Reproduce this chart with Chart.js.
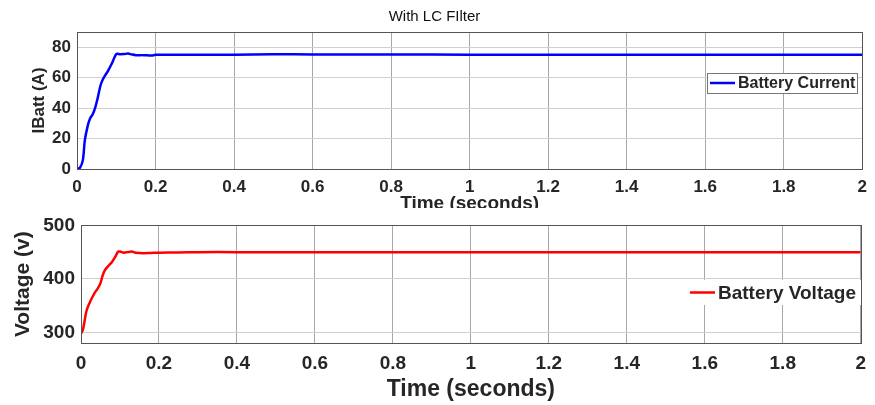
<!DOCTYPE html>
<html>
<head>
<meta charset="utf-8">
<script src="https://cdn.jsdelivr.net/npm/chart.js@4.4.0/dist/chart.umd.min.js"></script>
<style>
  html, body { margin: 0; padding: 0; background: #fff; }
  #top { position: absolute; left: 0; top: 0; width: 875px; height: 208px; overflow: hidden; }
  #bot { position: absolute; left: 0; top: 208px; width: 875px; height: 197px; }
</style>
</head>
<body>
<div id="top"><canvas id="currentChart" width="875" height="222"></canvas></div>
<div id="bot"><canvas id="voltageChart" width="875" height="197"></canvas></div>
<script>
// battery current (A) vs time (s)
var currentTime = [0, 0.008, 0.015, 0.02, 0.027, 0.033, 0.04, 0.046, 0.053, 0.06, 0.066, 0.073, 0.079, 0.09, 0.1, 0.11, 0.12, 0.13, 0.14, 0.15, 0.17, 0.19, 0.2, 0.25, 0.3, 0.4, 0.5, 0.6, 0.8, 1.0, 1.2, 1.4, 1.6, 1.8, 2.0];
var currentVals = [0, 1, 6, 19, 28, 33, 36, 40, 47, 55, 59, 62, 64.5, 70, 75.5, 75.4, 75.5, 75.8, 75.2, 74.8, 74.8, 74.5, 75, 75.1, 75.1, 75.1, 75.4, 75.2, 75.2, 75.1, 75.1, 75, 75.1, 75.1, 75.1];
// battery voltage (V) vs time (s)
var voltageTime = [0, 0.005, 0.014, 0.022, 0.03, 0.037, 0.043, 0.05, 0.055, 0.061, 0.07, 0.079, 0.087, 0.095, 0.1, 0.11, 0.12, 0.13, 0.14, 0.16, 0.18, 0.2, 0.25, 0.3, 0.4, 0.6, 0.8, 1.0, 1.2, 1.4, 1.6, 1.8, 2.0];
var voltageVals = [298, 305, 340, 355, 367, 376, 382, 392, 405, 416, 424, 431, 440, 451, 451, 449, 450, 451, 449, 448, 448.5, 449, 449.5, 450, 450, 450, 450, 450, 450, 450, 450, 450, 450];

var xTicks = [0, 0.2, 0.4, 0.6, 0.8, 1, 1.2, 1.4, 1.6, 1.8, 2];
var currentTicks = [0, 20, 40, 60, 80];
var voltageTicks = [300, 400, 500];

function toPoints(xs, ys) {
  return xs.map(function (x, i) { return { x: x, y: ys[i] }; });
}

var FONT = "'Liberation Sans', Arial, sans-serif";
var TXT = "#262626";

// legend drawn inside plot area, MATLAB style
var boxLegend = {
  id: "boxLegend",
  afterDraw: function (chart, args, opts) {
    var ctx = chart.ctx;
    var ds = chart.data.datasets[0];
    ctx.save();
    ctx.fillStyle = "#fff";
    ctx.fillRect(opts.x, opts.y, opts.w, opts.h);
    if (opts.border) {
      ctx.strokeStyle = "#777";
      ctx.lineWidth = 1;
      ctx.strokeRect(opts.x + 0.5, opts.y + 0.5, opts.w, opts.h);
    }
    var cy = opts.y + opts.h / 2;
    ctx.strokeStyle = ds.borderColor;
    ctx.lineWidth = 2.5;
    ctx.beginPath();
    ctx.moveTo(opts.x + opts.lineStart, cy);
    ctx.lineTo(opts.x + opts.lineStart + opts.lineLen, cy);
    ctx.stroke();
    ctx.fillStyle = TXT;
    ctx.font = "bold " + opts.size + "px " + FONT;
    ctx.textBaseline = "middle";
    ctx.fillText(ds.label, opts.x + opts.lineStart + opts.lineLen + 3, cy + 1);
    ctx.restore();
  }
};

function makeOptions(cfg) {
  return {
    responsive: false,
    animation: false,
    layout: { padding: cfg.padding },
    plugins: {
      legend: { display: false },
      tooltip: { enabled: false },
      title: cfg.title,
      boxLegend: cfg.legend
    },
    scales: {
      x: {
        type: "linear",
        min: 0, max: 2,
        afterBuildTicks: function (s) { s.ticks = xTicks.map(function (v) { return { value: v }; }); },
        afterFit: function (s) { s.height = cfg.xHeight; },
        ticks: {
          color: TXT, padding: cfg.xTickPad,
          font: { family: FONT, size: cfg.tickSize, weight: "bold" },
          maxRotation: 0,
          callback: function (v) { return String(+v.toFixed(1)); }
        },
        grid: { color: "#a8a8a8", tickLength: 0 },
        border: { color: "#555", width: 1 },
        title: {
          display: true, text: "Time (seconds)", color: TXT,
          font: { family: FONT, size: cfg.xTitleSize, weight: "bold" },
          padding: cfg.xTitlePad
        }
      },
      y: {
        min: cfg.yMin, max: cfg.yMax,
        afterBuildTicks: function (s) { s.ticks = cfg.yTicks.map(function (v) { return { value: v }; }); },
        afterFit: function (s) { s.width = cfg.yWidth; },
        ticks: {
          color: TXT, padding: 6,
          font: { family: FONT, size: cfg.tickSize, weight: "bold" }
        },
        grid: { color: "#d0d0d0", tickLength: 0 },
        border: { color: "#555", width: 1 },
        title: {
          display: true, text: cfg.yTitle, color: TXT,
          font: { family: FONT, size: cfg.yTitleSize, weight: "bold" },
          padding: cfg.yTitlePad
        }
      }
    }
  };
}

// outer frame (top and right edges)
var frame = {
  id: "frame",
  afterDraw: function (chart) {
    var a = chart.chartArea, ctx = chart.ctx;
    ctx.save();
    ctx.strokeStyle = "#555";
    ctx.lineWidth = 1;
    ctx.strokeRect(Math.round(a.left) + 0.5, Math.round(a.top) + 0.5, Math.round(a.right - a.left), Math.round(a.bottom - a.top));
    ctx.restore();
  }
};

new Chart(document.getElementById("currentChart"), {
  type: "line",
  data: {
    datasets: [{
      label: "Battery Current",
      data: toPoints(currentTime, currentVals),
      borderColor: "#0000ff",
      borderWidth: 2.5,
      pointRadius: 0,
      tension: 0.3
    }]
  },
  options: makeOptions({
    padding: { left: 0, right: 6, top: 0, bottom: 0 },
    title: {
      display: true, text: "With LC FIlter", color: "#111",
      font: { family: FONT, size: 15, weight: "normal" },
      padding: { top: 8, bottom: 6 }
    },
    legend: { x: 707, y: 73, w: 150, h: 20, border: true, lineStart: 3, lineLen: 25, size: 16 },
    yMin: 0, yMax: 90, yTicks: currentTicks, yWidth: 77,
    yTitle: "IBatt (A)", yTitleSize: 17, yTitlePad: { top: 29, bottom: 0 },
    xHeight: 53, tickSize: 17, xTickPad: 8, xTitleSize: 19, xTitlePad: { top: 0, bottom: 7 }
  }),
  plugins: [boxLegend, frame]
});

new Chart(document.getElementById("voltageChart"), {
  type: "line",
  data: {
    datasets: [{
      label: "Battery Voltage",
      data: toPoints(voltageTime, voltageVals),
      borderColor: "#ff0000",
      borderWidth: 2.5,
      pointRadius: 0,
      tension: 0.3
    }]
  },
  options: makeOptions({
    padding: { left: 0, right: 5, top: 14, bottom: 0 },
    title: { display: false },
    legend: { x: 685, y: 72, w: 178, h: 25, border: false, lineStart: 5, lineLen: 25, size: 19 },
    yMin: 280, yMax: 500, yTicks: voltageTicks, yWidth: 81,
    yTitle: "Voltage (v)", yTitleSize: 21, yTitlePad: { top: 11, bottom: 0 },
    xHeight: 62, tickSize: 19, xTickPad: 9, xTitleSize: 23, xTitlePad: { top: 0, bottom: 2 }
  }),
  plugins: [boxLegend, frame]
});
</script>
</body>
</html>
